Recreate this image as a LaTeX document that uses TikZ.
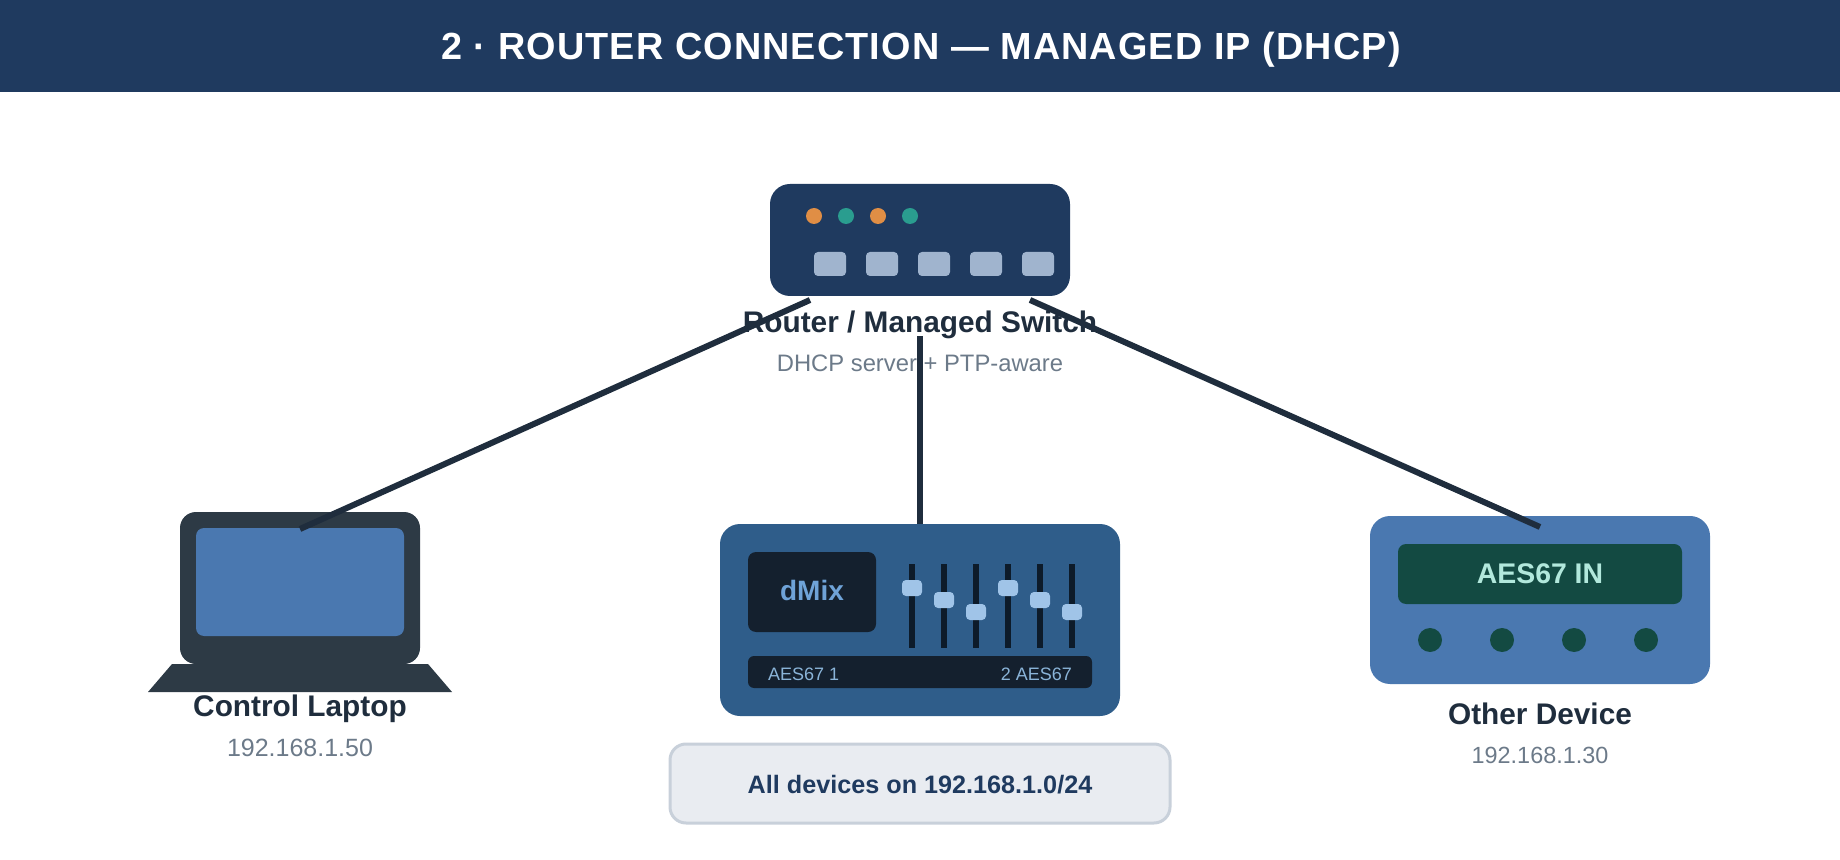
\documentclass[tikz,border=0pt]{standalone}
\usepackage{fontspec}
\setmainfont{Liberation Sans}
\newcommand{\fs}[1]{\fontsize{#1}{#1}\selectfont}
\definecolor{navy}{HTML}{1F3A5F}
\definecolor{ink}{HTML}{1F2D3D}
\definecolor{slateg}{HTML}{6C7A89}
\definecolor{lapbody}{HTML}{2D3A45}
\definecolor{midblue}{HTML}{4A78B0}
\definecolor{mixblue}{HTML}{2F5D8A}
\definecolor{panel}{HTML}{14202E}
\definecolor{track}{HTML}{0D1B2A}
\definecolor{knob}{HTML}{A0C4E8}
\definecolor{dmixt}{HTML}{6FA3D8}
\definecolor{strip}{HTML}{8AB4D8}
\definecolor{portc}{HTML}{A0B4CE}
\definecolor{ledo}{HTML}{E08E45}
\definecolor{ledt}{HTML}{2A9D8F}
\definecolor{screeng}{HTML}{134A42}
\definecolor{mint}{HTML}{B2E8DC}
\definecolor{pillf}{HTML}{E9ECF1}
\definecolor{pilld}{HTML}{C8D0DA}
\tikzset{
  px/.style={x=0.5pt,y=-0.5pt},
  box/.style args={#1/#2/#3/#4}{rectangle,fill=#1,rounded corners=#4*0.5pt,minimum width=#2*0.5pt,minimum height=#3*0.5pt,inner sep=0pt,outer sep=0pt},
  dotc/.style args={#1/#2}{circle,fill=#1,minimum size=#2*0.5pt,inner sep=0pt,outer sep=0pt},
  txt/.style={anchor=base,inner sep=0pt,outer sep=0pt},
  title/.style={txt,text=ink,font=\bfseries\fs{14.9}},
  sub/.style={txt,text=slateg,font=\fs{12}},
  wire/.style={draw=ink,line width=3pt,line cap=butt},
}
\begin{document}
\begin{tikzpicture}[px]
\useasboundingbox (0,0) rectangle (1840,860);
% header
\fill[navy] (0,0) rectangle (1840,92);
\node[txt,text=white,font=\bfseries\fs{18.9}] (head) at (921,60) {\addfontfeature{LetterSpace=3}2 · ROUTER CONNECTION — MANAGED IP (DHCP)};
% router
\node[box=navy/300/112/20] (router) at (920,240) {};
\foreach \x/\c in {814/ledo,846/ledt,878/ledo,910/ledt}
  \node[dotc=\c/16] (led\x) at (\x,216) {};
\foreach \x in {830,882,934,986,1038}
  \node[box=portc/32/24/4] (port\x) at (\x,264) {};
\node[title] (routerlbl) at (920,333) {Router / Managed Switch};
\node[sub,font=\fs{11.9}] (routersub) at (920,372) {DHCP server + PTP-aware};
% laptop
\node[fill=lapbody,inner sep=0pt,outer sep=0pt,rounded corners=8pt,rectangle,minimum width=120pt,minimum height=76pt] (laptop) at (300,588) {};
\node[box=midblue/208/108/8] (screen) at (300,582) {};
\fill[lapbody] (172,664) -- (428,664) -- (452,692) -- (148,692) -- cycle;
\node[title] (laptoplbl) at (300,716) {Control Laptop};
\node[sub,font=\fs{12.5}] (laptopsub) at (300,756) {192.168.1.50};
% mixer
\node[box=mixblue/400/192/20] (mixer) at (920,620) {};
\node[box=panel/128/80/8] (logo) at (812,592) {};
\node[txt,text=dmixt,font=\bfseries\fs{14}] (logot) at (812,600) {dMix};
\foreach \x/\y in {912/588,944/600,976/612,1008/588,1040/600,1072/612}{
  \fill[track] (\x-3,564) rectangle (\x+3,648);
  \node[box=knob/20/16/4] (knob\x) at (\x,\y) {};
}
\node[box=panel/344/32/6] (stripb) at (920,672) {};
\node[txt,anchor=base west,text=strip,font=\fs{9}] (aesl) at (768,680) {AES67 1};
\node[txt,anchor=base east,text=strip,font=\fs{9}] (aesr) at (1072,680) {2 AES67};
% pill
\node[rectangle,fill=pillf,draw=pilld,line width=1.5pt,rounded corners=8pt,minimum width=250pt,minimum height=39.5pt,inner sep=0pt] (pill) at (920,783.5) {};
\node[txt,text=navy,font=\bfseries\fs{12.6}] (pillt) at (920,793) {All devices on 192.168.1.0/24};
% other device
\node[box=midblue/340/168/20] (other) at (1540,600) {};
\node[box=screeng/284/60/8] (display) at (1540,574) {};
\node[txt,text=mint,font=\bfseries\fs{14.2}] (dispt) at (1540,583) {AES67 IN};
\foreach \x in {1430,1502,1574,1646}
  \node[dotc=screeng/24] (d\x) at (\x,640) {};
\node[title] (otherlbl) at (1540,724) {Other Device};
\node[sub,font=\fs{11.7}] (othersub) at (1540,763) {192.168.1.30};
% connectors
\coordinate (rl) at (810,300);
\coordinate (rc) at (920,336);
\coordinate (rr) at (1030,300);
\coordinate (lt) at (300,529);
\coordinate (ot) at (1540,527);
\draw[wire] (rl) -- (lt);
\draw[wire] (rc) -- (mixer.north);
\draw[wire] (rr) -- (ot);
\end{tikzpicture}
\end{document}
